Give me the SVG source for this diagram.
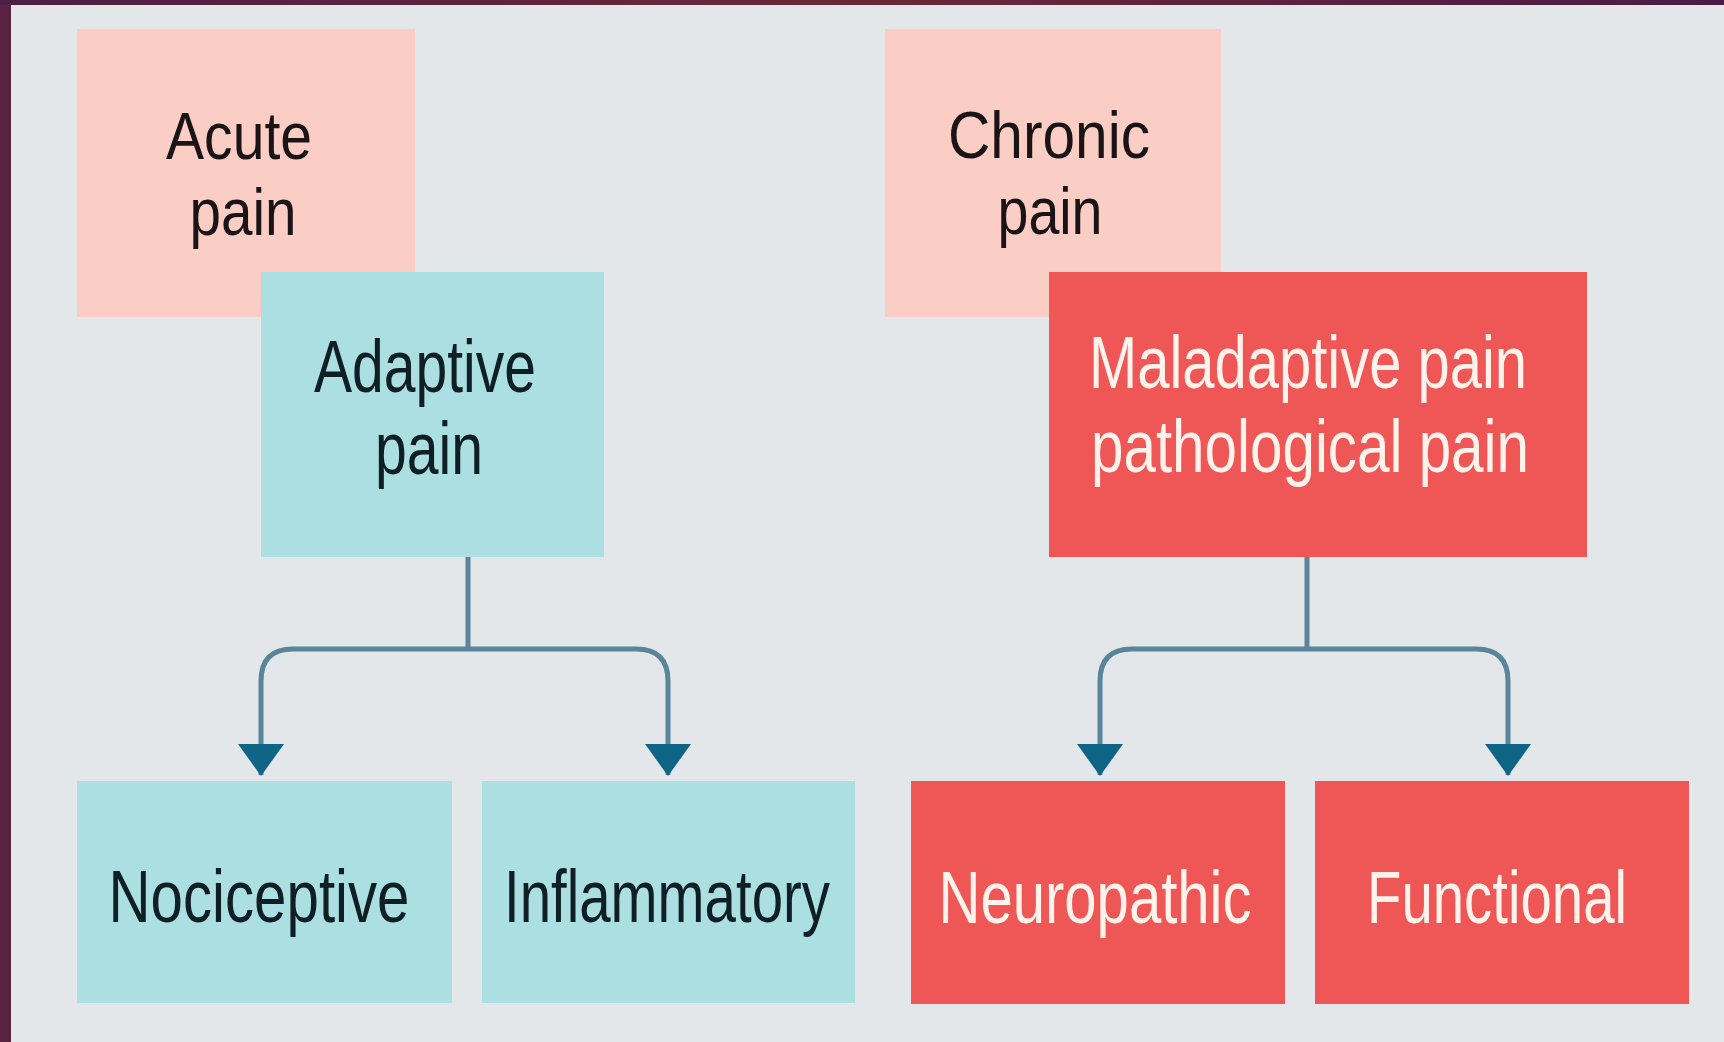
<svg xmlns="http://www.w3.org/2000/svg" width="1724" height="1042" viewBox="0 0 1724 1042">
  <defs>
    <linearGradient id="topbar" x1="0" y1="0" x2="1" y2="0">
      <stop offset="0" stop-color="#4e1f45"/>
      <stop offset="0.5" stop-color="#6a2838"/>
      <stop offset="1" stop-color="#4a1c45"/>
    </linearGradient>
    <marker id="arrow" markerUnits="userSpaceOnUse" markerWidth="34" markerHeight="48" refX="32" refY="24" orient="auto" viewBox="0 0 34 48">
      <path d="M1,1 L33,24 L1,47 Z" fill="#0e6585"/>
    </marker>
    <style>
      .bg { fill: #e3e7ea; }
      .pink { fill: #fbcec5; }
      .teal { fill: #abdfe1; }
      .red { fill: #ef5656; }
      .t { font-family: "Liberation Sans", Arial, sans-serif; font-size: 75px; text-anchor: middle; }
      .t2 { font-family: "Liberation Sans", Arial, sans-serif; font-size: 67px; text-anchor: middle; }
      .dark { fill: #1a1416; }
      .darkteal { fill: #0f1f24; }
      .light { fill: #fff3ec; }
      .conn { fill: none; stroke: #58859a; stroke-width: 5; }
    </style>
  </defs>

  <rect x="0" y="0" width="1724" height="1042" fill="#5a2242"/>
  <rect x="0" y="0" width="1724" height="5" fill="url(#topbar)"/>
  <rect class="bg" x="11" y="5" width="1713" height="1037"/>

  <g id="acute-pain">
    <rect class="pink" x="77" y="29" width="338" height="288"/>
    <text class="t2 dark" x="239" y="159" textLength="146" lengthAdjust="spacingAndGlyphs">Acute</text>
    <text class="t2 dark" x="243" y="235" textLength="107" lengthAdjust="spacingAndGlyphs">pain</text>
  </g>

  <g id="chronic-pain">
    <rect class="pink" x="885" y="29" width="336" height="288"/>
    <text class="t2 dark" x="1049" y="158" textLength="202" lengthAdjust="spacingAndGlyphs">Chronic</text>
    <text class="t2 dark" x="1050" y="234" textLength="105" lengthAdjust="spacingAndGlyphs">pain</text>
  </g>

  <g id="adaptive-pain">
    <rect class="teal" x="261" y="272" width="343" height="285"/>
    <text class="t darkteal" x="425" y="392" textLength="222" lengthAdjust="spacingAndGlyphs">Adaptive</text>
    <text class="t darkteal" x="429" y="474" textLength="108" lengthAdjust="spacingAndGlyphs">pain</text>
  </g>

  <g id="maladaptive-pain">
    <rect class="red" x="1049" y="272" width="538" height="285"/>
    <text class="t light" x="1308" y="388" textLength="438" lengthAdjust="spacingAndGlyphs">Maladaptive pain</text>
    <text class="t light" x="1310" y="472" textLength="438" lengthAdjust="spacingAndGlyphs">pathological pain</text>
  </g>

  <g id="nociceptive">
    <rect class="teal" x="77" y="781" width="375" height="222"/>
    <text class="t darkteal" x="259" y="922" textLength="301" lengthAdjust="spacingAndGlyphs">Nociceptive</text>
  </g>

  <g id="inflammatory">
    <rect class="teal" x="482" y="781" width="373" height="222"/>
    <text class="t darkteal" x="667" y="922" textLength="326" lengthAdjust="spacingAndGlyphs">Inflammatory</text>
  </g>

  <g id="neuropathic">
    <rect class="red" x="911" y="781" width="374" height="223"/>
    <text class="t light" x="1095" y="923" textLength="313" lengthAdjust="spacingAndGlyphs">Neuropathic</text>
  </g>

  <g id="functional">
    <rect class="red" x="1315" y="781" width="374" height="223"/>
    <text class="t light" x="1497" y="923" textLength="260" lengthAdjust="spacingAndGlyphs">Functional</text>
  </g>

  <g id="connectors">
    <path class="conn" d="M468,557 V649"/>
    <path class="conn" d="M468,649 H293 Q261,649 261,681 V775" marker-end="url(#arrow)"/>
    <path class="conn" d="M468,649 H636 Q668,649 668,681 V775" marker-end="url(#arrow)"/>
    <path class="conn" d="M1307,557 V649"/>
    <path class="conn" d="M1307,649 H1132 Q1100,649 1100,681 V775" marker-end="url(#arrow)"/>
    <path class="conn" d="M1307,649 H1476 Q1508,649 1508,681 V775" marker-end="url(#arrow)"/>
  </g>
</svg>
